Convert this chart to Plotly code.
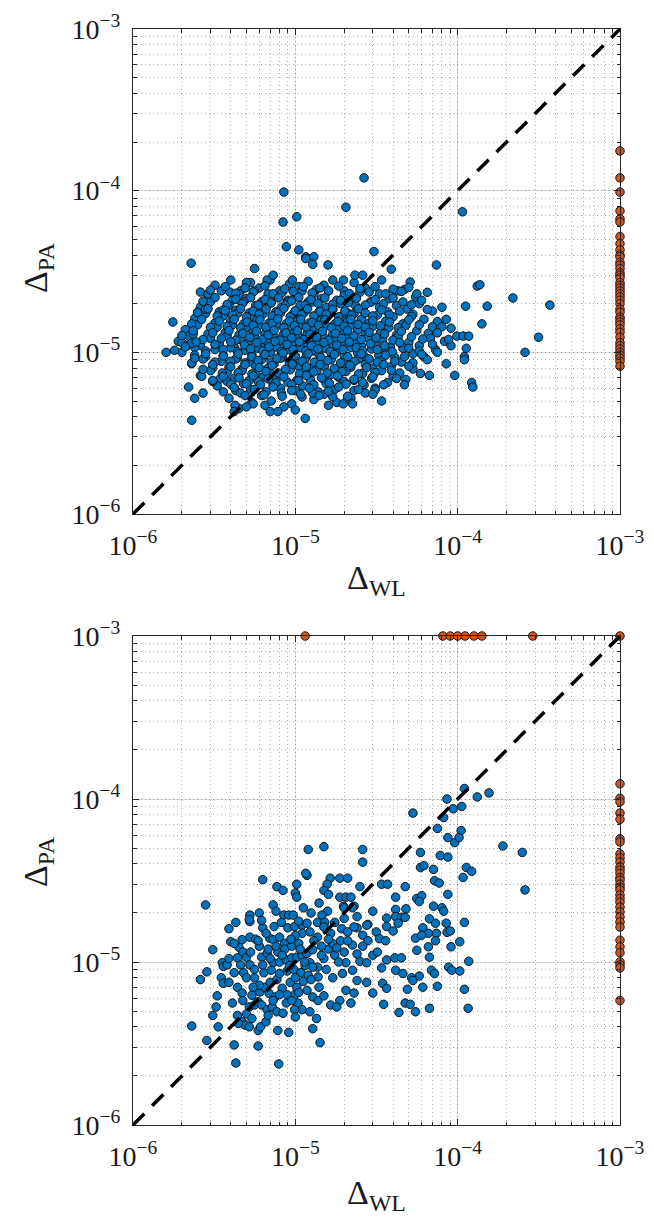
import plotly.graph_objects as go

# ---------------- top panel : blue points (Delta_WL, Delta_PA) ----------------
top_wl = [
    3.2e-6, 4.0e-6, 4.6e-6, 5.3e-6, 6.0e-6, 7.0e-6, 8.0e-6, 9.2e-6, 1.05e-5, 1.2e-5, 1.35e-5, 1.5e-5, 1.7e-5, 2.0e-5, 2.3e-5, 2.7e-5, 3.4e-5, 4.7e-5,
    2.9e-6, 3.5e-6, 4.1e-6, 4.5e-6, 5.0e-6, 5.6e-6, 6.2e-6, 6.8e-6, 7.5e-6, 8.3e-6, 9.0e-6, 1.0e-5, 1.1e-5, 1.2e-5, 1.3e-5, 1.45e-5, 1.6e-5, 1.8e-5, 2.0e-5, 2.25e-5, 2.5e-5, 2.9e-5, 3.3e-5, 3.8e-5, 4.3e-5, 5.5e-5,
    2.6e-6, 3.0e-6, 3.4e-6, 3.9e-6, 4.3e-6, 4.8e-6, 5.2e-6, 5.7e-6, 6.3e-6, 6.9e-6, 7.6e-6, 8.2e-6, 9.0e-6, 9.8e-6, 1.07e-5, 1.17e-5, 1.28e-5, 1.4e-5, 1.55e-5, 1.7e-5, 1.9e-5, 2.1e-5, 2.35e-5, 2.6e-5, 2.95e-5, 3.3e-5, 3.7e-5, 4.2e-5, 4.9e-5, 5.8e-5, 7.0e-5,
    2.4e-6, 2.8e-6, 3.2e-6, 3.6e-6, 4.0e-6, 4.4e-6, 4.8e-6, 5.3e-6, 5.8e-6, 6.3e-6, 6.9e-6, 7.5e-6, 8.1e-6, 8.8e-6, 9.5e-6, 1.03e-5, 1.12e-5, 1.22e-5, 1.33e-5, 1.45e-5, 1.6e-5, 1.75e-5, 1.92e-5, 2.1e-5, 2.3e-5, 2.55e-5, 2.85e-5, 3.2e-5, 3.6e-5, 4.0e-5, 4.6e-5, 5.3e-5, 6.2e-5, 7.5e-5,
    2.1e-6, 2.5e-6, 2.9e-6, 3.3e-6, 3.7e-6, 4.1e-6, 4.5e-6, 5.0e-6, 5.5e-6, 6.0e-6, 6.5e-6, 7.1e-6, 7.7e-6, 8.4e-6, 9.1e-6, 9.9e-6, 1.08e-5, 1.18e-5, 1.29e-5, 1.41e-5, 1.54e-5, 1.69e-5, 1.85e-5, 2.02e-5, 2.2e-5, 2.42e-5, 2.7e-5, 3.0e-5, 3.35e-5, 3.75e-5, 4.2e-5, 4.8e-5, 5.6e-5, 6.6e-5, 8.0e-5,
    1.9e-6, 2.2e-6, 2.6e-6, 3.0e-6, 3.4e-6, 3.8e-6, 4.2e-6, 4.6e-6, 5.1e-6, 5.6e-6, 6.1e-6, 6.7e-6, 7.3e-6, 8.0e-6, 8.7e-6, 9.5e-6, 1.04e-5, 1.13e-5, 1.24e-5, 1.35e-5, 1.48e-5, 1.62e-5, 1.77e-5, 1.94e-5, 2.12e-5, 2.32e-5, 2.55e-5, 2.8e-5, 3.1e-5, 3.45e-5, 3.85e-5, 4.3e-5, 5.0e-5, 5.8e-5, 6.8e-5, 8.3e-5,
    2.0e-6, 2.4e-6, 2.8e-6, 3.2e-6, 3.6e-6, 4.0e-6, 4.4e-6, 4.9e-6, 5.4e-6, 5.9e-6, 6.4e-6, 7.0e-6, 7.6e-6, 8.3e-6, 9.0e-6, 9.8e-6, 1.07e-5, 1.17e-5, 1.28e-5, 1.4e-5, 1.53e-5, 1.67e-5, 1.83e-5, 2.0e-5, 2.2e-5, 2.42e-5, 2.67e-5, 2.95e-5, 3.27e-5, 3.65e-5, 4.1e-5, 4.6e-5, 5.3e-5, 6.2e-5, 7.3e-5,
    2.3e-6, 2.7e-6, 3.1e-6, 3.5e-6, 3.9e-6, 4.3e-6, 4.7e-6, 5.2e-6, 5.7e-6, 6.2e-6, 6.8e-6, 7.4e-6, 8.1e-6, 8.8e-6, 9.6e-6, 1.05e-5, 1.15e-5, 1.26e-5, 1.38e-5, 1.51e-5, 1.66e-5, 1.82e-5, 2.0e-5, 2.2e-5, 2.45e-5, 2.7e-5, 3.0e-5, 3.4e-5, 3.9e-5, 4.5e-5, 5.3e-5, 6.5e-5,
    2.6e-6, 3.0e-6, 3.4e-6, 3.8e-6, 4.2e-6, 4.7e-6, 5.2e-6, 5.7e-6, 6.3e-6, 6.9e-6, 7.6e-6, 8.4e-6, 9.3e-6, 1.02e-5, 1.12e-5, 1.23e-5, 1.36e-5, 1.5e-5, 1.66e-5, 1.85e-5, 2.05e-5, 2.3e-5, 2.6e-5, 2.95e-5, 3.4e-5, 4.0e-5, 4.8e-5,
    3.3e-6, 3.8e-6, 4.3e-6, 4.8e-6, 5.3e-6, 5.9e-6, 6.6e-6, 7.3e-6, 8.1e-6, 9.0e-6, 1.0e-5, 1.11e-5, 1.24e-5, 1.38e-5, 1.55e-5, 1.75e-5, 2.0e-5, 2.3e-5, 2.65e-5, 3.1e-5, 3.7e-5,
    3.9e-6, 4.6e-6, 5.4e-6, 6.2e-6, 7.1e-6, 8.2e-6, 9.5e-6, 1.1e-5, 1.3e-5, 1.5e-5, 1.8e-5, 2.2e-5, 2.7e-5,
    4.5e-6, 5.5e-6, 7.0e-6, 8.5e-6, 1.0e-5, 1.6e-5,
    # outliers / edges
    1.6e-6, 1.8e-6, 1.76e-6, 2.0e-6, 2.15e-6, 2.3e-6, 2.35e-6, 2.28e-6, 2.6e-6, 2.9e-6,
    2.5e-6, 2.8e-6, 2.3e-6, 2.4e-6, 2.2e-6, 2.4e-6, 2.7e-6, 2.65e-6, 2.3e-6, 3.1e-6,
    3.95e-6, 3.6e-6, 4.25e-6, 4.2e-6, 5.0e-6, 6.5e-6, 7.8e-6, 1.15e-5, 8.5e-6, 8.4e-6,
    1.02e-5, 2.65e-5, 2.05e-5, 8.8e-6, 1.05e-5, 1.16e-5, 1.3e-5, 3.05e-5, 5.6e-6, 5.0e-6,
    6.7e-6, 7.3e-6, 9.6e-6, 1.28e-5, 1.59e-5, 7.4e-5, 3.9e-5, 2.33e-5, 2.6e-5, 1.98e-5,
    5.1e-5, 6.5e-5, 5.6e-5, 1.07e-4, 1.32e-4, 1.37e-4, 1.12e-4, 1.52e-4, 1.41e-4, 9.1e-5,
    9.1e-5, 9.9e-5, 1.08e-4, 1.17e-4, 1.13e-4, 1.1e-4, 1.1e-4, 9.6e-5, 1.22e-4, 1.24e-4,
    5.9e-5, 6.7e-5, 4.7e-5, 3.4e-5, 3.1e-5, 2.25e-5, 1.97e-5, 2.19e-4, 3.7e-4, 3.15e-4,
    2.6e-4, 8.5e-5, 8.0e-5, 8.8e-5, 7.5e-5, 8.5e-5, 1.7e-5, 2.1e-5, 1.28e-5, 1.16e-5,
]
top_pa = [
    2.6e-5, 2.8e-5, 2.4e-5, 2.7e-5, 2.5e-5, 2.8e-5, 2.4e-5, 2.65e-5, 2.55e-5, 2.75e-5, 2.45e-5, 2.6e-5, 2.8e-5, 2.4e-5, 2.7e-5, 2.5e-5, 2.8e-5, 2.45e-5,
    2.25e-5, 2.4e-5, 2.1e-5, 2.3e-5, 2.15e-5, 2.4e-5, 2.05e-5, 2.3e-5, 2.2e-5, 2.35e-5, 2.1e-5, 2.25e-5, 2.4e-5, 2.05e-5, 2.3e-5, 2.15e-5, 2.4e-5, 2.1e-5, 2.25e-5, 2.2e-5, 2.35e-5, 2.05e-5, 2.3e-5, 2.15e-5, 2.4e-5, 2.2e-5,
    1.9e-5, 2.05e-5, 1.78e-5, 1.95e-5, 1.82e-5, 2.05e-5, 1.75e-5, 1.95e-5, 1.85e-5, 2.0e-5, 1.78e-5, 1.9e-5, 2.05e-5, 1.75e-5, 1.95e-5, 1.82e-5, 2.05e-5, 1.78e-5, 1.9e-5, 1.85e-5, 2.0e-5, 1.75e-5, 1.95e-5, 1.82e-5, 2.05e-5, 1.9e-5, 1.78e-5, 1.95e-5, 1.85e-5, 2.0e-5, 1.8e-5,
    1.62e-5, 1.74e-5, 1.52e-5, 1.68e-5, 1.55e-5, 1.74e-5, 1.5e-5, 1.66e-5, 1.58e-5, 1.72e-5, 1.52e-5, 1.62e-5, 1.75e-5, 1.5e-5, 1.68e-5, 1.56e-5, 1.74e-5, 1.52e-5, 1.64e-5, 1.58e-5, 1.72e-5, 1.5e-5, 1.66e-5, 1.56e-5, 1.74e-5, 1.6e-5, 1.52e-5, 1.7e-5, 1.56e-5, 1.66e-5, 1.5e-5, 1.72e-5, 1.6e-5, 1.55e-5,
    1.38e-5, 1.48e-5, 1.3e-5, 1.43e-5, 1.32e-5, 1.48e-5, 1.28e-5, 1.42e-5, 1.35e-5, 1.47e-5, 1.3e-5, 1.38e-5, 1.49e-5, 1.28e-5, 1.43e-5, 1.33e-5, 1.48e-5, 1.3e-5, 1.4e-5, 1.35e-5, 1.47e-5, 1.28e-5, 1.42e-5, 1.33e-5, 1.48e-5, 1.37e-5, 1.3e-5, 1.45e-5, 1.33e-5, 1.42e-5, 1.28e-5, 1.47e-5, 1.36e-5, 1.31e-5, 1.44e-5,
    1.17e-5, 1.26e-5, 1.1e-5, 1.22e-5, 1.12e-5, 1.26e-5, 1.08e-5, 1.2e-5, 1.14e-5, 1.25e-5, 1.1e-5, 1.17e-5, 1.27e-5, 1.08e-5, 1.22e-5, 1.13e-5, 1.26e-5, 1.1e-5, 1.19e-5, 1.14e-5, 1.25e-5, 1.08e-5, 1.21e-5, 1.13e-5, 1.26e-5, 1.16e-5, 1.1e-5, 1.23e-5, 1.13e-5, 1.2e-5, 1.08e-5, 1.25e-5, 1.15e-5, 1.1e-5, 1.22e-5, 1.17e-5,
    1.0e-5, 1.07e-5, 9.4e-6, 1.04e-5, 9.6e-6, 1.07e-5, 9.3e-6, 1.03e-5, 9.7e-6, 1.06e-5, 9.4e-6, 1.0e-5, 1.08e-5, 9.3e-6, 1.04e-5, 9.6e-6, 1.07e-5, 9.4e-6, 1.02e-5, 9.7e-6, 1.06e-5, 9.3e-6, 1.03e-5, 9.6e-6, 1.07e-5, 9.9e-6, 9.4e-6, 1.05e-5, 9.6e-6, 1.02e-5, 9.3e-6, 1.06e-5, 9.8e-6, 9.4e-6, 1.04e-5,
    8.5e-6, 9.1e-6, 8.0e-6, 8.8e-6, 8.1e-6, 9.1e-6, 7.9e-6, 8.7e-6, 8.2e-6, 9.0e-6, 8.0e-6, 8.5e-6, 9.2e-6, 7.9e-6, 8.8e-6, 8.2e-6, 9.1e-6, 8.0e-6, 8.6e-6, 8.2e-6, 9.0e-6, 7.9e-6, 8.7e-6, 8.1e-6, 9.1e-6, 8.4e-6, 8.0e-6, 8.9e-6, 8.2e-6, 8.7e-6, 7.9e-6, 9.0e-6,
    7.2e-6, 7.7e-6, 6.8e-6, 7.5e-6, 6.9e-6, 7.7e-6, 6.7e-6, 7.4e-6, 7.0e-6, 7.6e-6, 6.8e-6, 7.2e-6, 7.8e-6, 6.7e-6, 7.5e-6, 6.9e-6, 7.7e-6, 6.8e-6, 7.3e-6, 7.0e-6, 7.6e-6, 6.7e-6, 7.4e-6, 6.9e-6, 7.7e-6, 7.1e-6, 6.8e-6,
    6.2e-6, 6.6e-6, 5.8e-6, 6.4e-6, 5.9e-6, 6.6e-6, 5.7e-6, 6.3e-6, 6.0e-6, 6.5e-6, 5.8e-6, 6.2e-6, 6.7e-6, 5.7e-6, 6.4e-6, 5.9e-6, 6.6e-6, 5.8e-6, 6.3e-6, 6.0e-6, 6.5e-6,
    5.2e-6, 5.6e-6, 4.9e-6, 5.4e-6, 5.0e-6, 5.6e-6, 4.8e-6, 5.3e-6, 5.1e-6, 5.5e-6, 4.9e-6, 5.2e-6, 5.6e-6,
    4.5e-6, 4.8e-6, 4.3e-6, 4.6e-6, 4.4e-6, 4.7e-6,
    # outliers / edges
    1.0e-5, 1.03e-5, 1.54e-5, 1.15e-5, 1.1e-5, 1.14e-5, 1.3e-5, 3.56e-5, 2.36e-5, 2.3e-5,
    1.77e-5, 1.85e-5, 8.6e-6, 9.6e-6, 6.1e-6, 5.2e-6, 5.6e-6, 7.1e-6, 3.8e-6, 6.6e-6,
    2.36e-5, 1.83e-5, 4.7e-6, 4.3e-6, 4.6e-6, 4.7e-6, 4.3e-6, 3.9e-6, 9.8e-5, 6.4e-5,
    6.9e-5, 1.2e-4, 7.9e-5, 4.5e-5, 4.3e-5, 3.9e-5, 3.9e-5, 4.2e-5, 3.3e-5, 2.7e-5,
    2.8e-5, 3.0e-5, 2.8e-5, 3.5e-5, 3.47e-5, 3.47e-5, 3.27e-5, 3.0e-5, 3.0e-5, 2.8e-5,
    2.72e-5, 2.35e-5, 2.3e-5, 7.4e-5, 2.57e-5, 2.62e-5, 1.93e-5, 1.93e-5, 1.5e-5, 1.41e-5,
    1.1e-5, 1.26e-5, 1.26e-5, 1.26e-5, 1.06e-5, 9.4e-6, 9.0e-6, 7.2e-6, 6.5e-6, 6.1e-6,
    7.4e-6, 7.2e-6, 6.3e-6, 5.0e-6, 5.85e-6, 4.8e-6, 4.8e-6, 2.17e-5, 1.96e-5, 1.24e-5,
    1.0e-5, 1.6e-5, 1.9e-5, 1.2e-5, 1.0e-5, 8.5e-6, 5.3e-6, 5.2e-6, 5.6e-6, 3.8e-5,
]
# second set of top-panel blue points (between the rows above)
top_wl_b = [
    3.0e-6, 3.7e-6, 4.3e-6, 4.9e-6, 5.5e-6, 6.5e-6, 7.3e-6, 8.6e-6, 9.7e-6, 1.12e-5, 1.27e-5, 1.42e-5, 1.6e-5, 1.85e-5, 2.15e-5, 2.5e-5, 2.85e-5, 3.1e-5, 3.6e-5, 4.0e-5, 4.5e-5, 5.0e-5,
    2.7e-6, 3.2e-6, 3.8e-6, 4.3e-6, 4.7e-6, 5.3e-6, 5.9e-6, 6.5e-6, 7.1e-6, 7.9e-6, 8.7e-6, 9.5e-6, 1.05e-5, 1.15e-5, 1.25e-5, 1.38e-5, 1.52e-5, 1.7e-5, 1.9e-5, 2.12e-5, 2.38e-5, 2.7e-5, 3.1e-5, 3.5e-5, 4.0e-5, 4.6e-5, 5.2e-5, 6.0e-5,
    2.5e-6, 2.9e-6, 3.3e-6, 3.7e-6, 4.1e-6, 4.6e-6, 5.0e-6, 5.5e-6, 6.0e-6, 6.6e-6, 7.2e-6, 7.9e-6, 8.5e-6, 9.3e-6, 1.0e-5, 1.09e-5, 1.19e-5, 1.3e-5, 1.42e-5, 1.55e-5, 1.7e-5, 1.85e-5, 2.02e-5, 2.22e-5, 2.45e-5, 2.7e-5, 3.0e-5, 3.4e-5, 3.8e-5, 4.4e-5, 5.2e-5, 6.5e-5,
    2.3e-6, 2.65e-6, 3.0e-6, 3.4e-6, 3.8e-6, 4.2e-6, 4.6e-6, 5.05e-6, 5.5e-6, 6.05e-6, 6.6e-6, 7.2e-6, 7.8e-6, 8.5e-6, 9.2e-6, 9.9e-6, 1.08e-5, 1.17e-5, 1.27e-5, 1.39e-5, 1.52e-5, 1.67e-5, 1.83e-5, 2.0e-5, 2.2e-5, 2.43e-5, 2.7e-5, 3.0e-5, 3.35e-5, 3.8e-5, 4.3e-5, 5.0e-5, 5.8e-5, 7.0e-5,
    2.0e-6, 2.35e-6, 2.7e-6, 3.1e-6, 3.5e-6, 3.9e-6, 4.3e-6, 4.75e-6, 5.25e-6, 5.75e-6, 6.25e-6, 6.8e-6, 7.4e-6, 8.05e-6, 8.75e-6, 9.5e-6, 1.03e-5, 1.12e-5, 1.23e-5, 1.35e-5, 1.47e-5, 1.61e-5, 1.77e-5, 1.93e-5, 2.1e-5, 2.3e-5, 2.55e-5, 2.85e-5, 3.15e-5, 3.55e-5, 4.0e-5, 4.5e-5, 5.2e-5, 6.1e-5, 7.5e-5,
    2.1e-6, 2.45e-6, 2.8e-6, 3.2e-6, 3.6e-6, 4.0e-6, 4.4e-6, 4.85e-6, 5.3e-6, 5.8e-6, 6.3e-6, 6.9e-6, 7.5e-6, 8.2e-6, 8.9e-6, 9.7e-6, 1.06e-5, 1.16e-5, 1.26e-5, 1.38e-5, 1.5e-5, 1.64e-5, 1.8e-5, 1.97e-5, 2.15e-5, 2.37e-5, 2.6e-5, 2.9e-5, 3.2e-5, 3.55e-5, 3.95e-5, 4.4e-5, 5.0e-5, 5.8e-5, 7.0e-5,
    2.4e-6, 2.8e-6, 3.2e-6, 3.6e-6, 4.0e-6, 4.45e-6, 4.9e-6, 5.4e-6, 5.9e-6, 6.5e-6, 7.1e-6, 7.7e-6, 8.4e-6, 9.2e-6, 1.0e-5, 1.1e-5, 1.2e-5, 1.31e-5, 1.44e-5, 1.58e-5, 1.74e-5, 1.9e-5, 2.1e-5, 2.32e-5, 2.55e-5, 2.85e-5, 3.2e-5, 3.6e-5, 4.1e-5, 4.7e-5, 5.3e-5, 6.0e-5,
    2.7e-6, 3.1e-6, 3.55e-6, 4.0e-6, 4.45e-6, 4.9e-6, 5.4e-6, 6.0e-6, 6.6e-6, 7.2e-6, 7.9e-6, 8.7e-6, 9.6e-6, 1.06e-5, 1.17e-5, 1.29e-5, 1.42e-5, 1.57e-5, 1.74e-5, 1.94e-5, 2.17e-5, 2.45e-5, 2.75e-5, 3.1e-5, 3.5e-5, 3.9e-5, 4.4e-5, 5.0e-5,
    3.1e-6, 3.6e-6, 4.0e-6, 4.5e-6, 5.0e-6, 5.5e-6, 6.1e-6, 6.8e-6, 7.6e-6, 8.5e-6, 9.5e-6, 1.05e-5, 1.17e-5, 1.3e-5, 1.45e-5, 1.62e-5, 1.82e-5, 2.05e-5, 2.3e-5, 2.6e-5, 3.0e-5, 3.5e-5, 4.2e-5,
    3.6e-6, 4.2e-6, 4.9e-6, 5.6e-6, 6.4e-6, 7.3e-6, 8.3e-6, 9.5e-6, 1.08e-5, 1.22e-5, 1.4e-5, 1.6e-5, 1.85e-5, 2.1e-5, 2.45e-5, 3.0e-5,
]
top_pa_b = [
    2.43e-5, 2.55e-5, 2.32e-5, 2.5e-5, 2.36e-5, 2.58e-5, 2.3e-5, 2.47e-5, 2.38e-5, 2.55e-5, 2.33e-5, 2.5e-5, 2.4e-5, 2.57e-5, 2.31e-5, 2.48e-5, 2.36e-5, 2.55e-5, 2.3e-5, 2.46e-5, 2.38e-5, 2.52e-5,
    2.07e-5, 2.18e-5, 1.98e-5, 2.13e-5, 2.0e-5, 2.18e-5, 1.96e-5, 2.12e-5, 2.02e-5, 2.17e-5, 1.97e-5, 2.08e-5, 2.19e-5, 1.96e-5, 2.12e-5, 2.01e-5, 2.17e-5, 1.98e-5, 2.1e-5, 2.03e-5, 2.16e-5, 1.96e-5, 2.12e-5, 2.0e-5, 2.17e-5, 2.05e-5, 1.97e-5, 2.1e-5,
    1.76e-5, 1.86e-5, 1.68e-5, 1.81e-5, 1.7e-5, 1.86e-5, 1.66e-5, 1.8e-5, 1.72e-5, 1.85e-5, 1.68e-5, 1.77e-5, 1.87e-5, 1.66e-5, 1.81e-5, 1.71e-5, 1.86e-5, 1.68e-5, 1.79e-5, 1.72e-5, 1.85e-5, 1.66e-5, 1.8e-5, 1.7e-5, 1.86e-5, 1.75e-5, 1.68e-5, 1.83e-5, 1.71e-5, 1.8e-5, 1.67e-5, 1.84e-5,
    1.5e-5, 1.6e-5, 1.43e-5, 1.56e-5, 1.45e-5, 1.6e-5, 1.42e-5, 1.54e-5, 1.47e-5, 1.59e-5, 1.43e-5, 1.51e-5, 1.61e-5, 1.42e-5, 1.56e-5, 1.46e-5, 1.6e-5, 1.43e-5, 1.53e-5, 1.47e-5, 1.59e-5, 1.42e-5, 1.55e-5, 1.45e-5, 1.6e-5, 1.49e-5, 1.43e-5, 1.57e-5, 1.46e-5, 1.54e-5, 1.42e-5, 1.59e-5, 1.48e-5, 1.44e-5,
    1.27e-5, 1.36e-5, 1.2e-5, 1.32e-5, 1.22e-5, 1.36e-5, 1.19e-5, 1.31e-5, 1.24e-5, 1.35e-5, 1.2e-5, 1.28e-5, 1.37e-5, 1.19e-5, 1.32e-5, 1.23e-5, 1.36e-5, 1.2e-5, 1.29e-5, 1.24e-5, 1.35e-5, 1.19e-5, 1.31e-5, 1.22e-5, 1.36e-5, 1.26e-5, 1.2e-5, 1.33e-5, 1.23e-5, 1.3e-5, 1.19e-5, 1.35e-5, 1.25e-5, 1.21e-5, 1.32e-5,
    1.08e-5, 1.16e-5, 1.02e-5, 1.12e-5, 1.04e-5, 1.16e-5, 1.01e-5, 1.11e-5, 1.05e-5, 1.15e-5, 1.02e-5, 1.08e-5, 1.17e-5, 1.01e-5, 1.12e-5, 1.04e-5, 1.16e-5, 1.02e-5, 1.1e-5, 1.05e-5, 1.15e-5, 1.01e-5, 1.11e-5, 1.04e-5, 1.16e-5, 1.07e-5, 1.02e-5, 1.13e-5, 1.04e-5, 1.1e-5, 1.01e-5, 1.15e-5, 1.06e-5, 1.02e-5, 1.12e-5,
    9.2e-6, 9.8e-6, 8.7e-6, 9.5e-6, 8.8e-6, 9.8e-6, 8.6e-6, 9.4e-6, 8.9e-6, 9.7e-6, 8.7e-6, 9.2e-6, 9.9e-6, 8.6e-6, 9.5e-6, 8.8e-6, 9.8e-6, 8.7e-6, 9.3e-6, 8.9e-6, 9.7e-6, 8.6e-6, 9.4e-6, 8.8e-6, 9.8e-6, 9.1e-6, 8.7e-6, 9.6e-6, 8.8e-6, 9.4e-6, 8.6e-6, 9.7e-6,
    7.85e-6, 8.4e-6, 7.45e-6, 8.15e-6, 7.5e-6, 8.4e-6, 7.35e-6, 8.05e-6, 7.6e-6, 8.3e-6, 7.45e-6, 7.85e-6, 8.45e-6, 7.35e-6, 8.15e-6, 7.55e-6, 8.4e-6, 7.45e-6, 7.95e-6, 7.6e-6, 8.3e-6, 7.35e-6, 8.05e-6, 7.5e-6, 8.4e-6, 7.75e-6, 7.45e-6, 8.2e-6,
    6.7e-6, 7.1e-6, 6.35e-6, 6.95e-6, 6.4e-6, 7.15e-6, 6.3e-6, 6.85e-6, 6.5e-6, 7.05e-6, 6.35e-6, 6.7e-6, 7.2e-6, 6.3e-6, 6.95e-6, 6.45e-6, 7.15e-6, 6.35e-6, 6.8e-6, 6.5e-6, 7.05e-6, 6.3e-6, 6.9e-6,
    5.7e-6, 6.05e-6, 5.4e-6, 5.9e-6, 5.45e-6, 6.1e-6, 5.35e-6, 5.8e-6, 5.5e-6, 6.0e-6, 5.4e-6, 5.75e-6, 6.1e-6, 5.35e-6, 5.9e-6, 5.5e-6,
]

# top panel : orange points (capped at Delta_WL = 1e-3)
top_cap_wl = [
    1e-3, 1e-3, 1e-3, 1e-3, 1e-3, 1e-3, 1e-3, 1e-3, 1e-3, 1e-3,
    1e-3, 1e-3, 1e-3, 1e-3, 1e-3, 1e-3, 1e-3, 1e-3, 1e-3, 1e-3,
    1e-3, 1e-3, 1e-3, 1e-3, 1e-3, 1e-3, 1e-3, 1e-3, 1e-3, 1e-3,
    1e-3, 1e-3, 1e-3, 1e-3, 1e-3, 1e-3, 1e-3, 1e-3, 1e-3, 1e-3,
    1e-3, 1e-3,
]
top_cap_pa = [
    1.76e-4, 1.2e-4, 9.8e-5, 7.5e-5, 6.7e-5, 6.4e-5, 5.2e-5, 4.7e-5, 4.3e-5, 4.0e-5,
    3.9e-5, 3.6e-5, 3.47e-5, 3.3e-5, 3.1e-5, 3.0e-5, 2.9e-5, 2.7e-5, 2.6e-5, 2.5e-5,
    2.4e-5, 2.3e-5, 2.2e-5, 2.1e-5, 2.0e-5, 1.85e-5, 1.77e-5, 1.65e-5, 1.6e-5, 1.54e-5,
    1.48e-5, 1.4e-5, 1.33e-5, 1.24e-5, 1.15e-5, 1.1e-5, 1.05e-5, 1.0e-5, 9.6e-6, 9.2e-6,
    8.8e-6, 8.2e-6,
]

# ---------------- bottom panel : blue points ----------------
bot_wl = [
    1.2e-5, 1.5e-5, 2.6e-5, 2.6e-5, 6.3e-6, 1.18e-5, 2.8e-6, 7.7e-6, 8.4e-6, 1.02e-5,
    1.0e-5, 1.02e-5, 1.64e-5, 1.88e-5, 2.1e-5, 1.57e-5, 1.5e-5, 1.88e-5, 2.05e-5, 1.98e-5,
    2.3e-5, 3.4e-5, 3.7e-5, 3.0e-5, 2.8e-5, 3.15e-5, 3.65e-5, 2.4e-5, 5.25e-6, 5.25e-6,
    3.1e-6, 2.85e-6, 2.6e-6, 3.3e-6, 3.25e-6, 3.1e-6, 2.3e-6, 3.35e-6, 2.85e-6, 4.2e-6,
    5.9e-6, 4.3e-6, 7.9e-6, 1.42e-5, 1.28e-5, 1.35e-5, 9.1e-6, 7.8e-6, 5.9e-6, 6.1e-6,
    4.0e-6, 3.55e-6, 3.6e-6, 3.8e-6, 1.16e-5, 7.3e-6, 7.6e-6, 8.5e-6, 9.1e-6, 9.7e-6,
    5.2e-6, 6.3e-6, 6.95e-6, 7.3e-6, 8.0e-6, 8.6e-6, 9.0e-6, 9.9e-6, 1.1e-5, 1.18e-5,
    1.1e-5, 1.23e-5, 1.37e-5, 1.37e-5, 4.7e-6, 5.25e-6, 5.7e-6, 4.5e-6, 4.75e-6, 5.0e-6,
    4.4e-6, 5.25e-6, 6.2e-6, 6.7e-6, 7.3e-6, 8.0e-6, 8.8e-6, 9.5e-6, 1.02e-5, 1.1e-5,
    1.18e-5, 1.28e-5, 1.23e-5, 1.37e-5, 3.5e-6, 3.6e-6, 3.9e-6, 4.4e-6, 4.7e-6, 4.1e-6,
    4.75e-6, 5.2e-6, 5.6e-6, 5.4e-6, 6.05e-6, 6.5e-6, 7.0e-6, 7.7e-6, 8.3e-6, 5.9e-6,
    6.2e-6, 6.7e-6, 7.2e-6, 7.7e-6, 8.4e-6, 8.8e-6, 9.9e-6, 1.04e-5, 9.3e-6, 1.02e-5,
    1.12e-5, 4.7e-6, 4.9e-6, 5.2e-6, 6.6e-6, 4.4e-6, 4.45e-6, 1.28e-5, 1.38e-5, 1.18e-5,
    1.28e-5, 1.38e-5, 1.1e-5, 1.23e-5, 9.9e-6, 1.1e-4, 1.32e-4, 1.56e-4, 8.6e-5, 1.06e-4,
    9.4e-5, 8.2e-5, 5.3e-5, 7.5e-5, 1.05e-4, 8.7e-5, 9.6e-5, 1.02e-4, 1.9e-4, 2.5e-4,
    2.6e-4, 5.9e-5, 7.8e-5, 8.7e-5, 5.9e-5, 6.2e-5, 7.1e-5, 7.2e-5, 7.7e-5, 1.13e-4,
    1.22e-4, 1.08e-4, 4.75e-5, 4.15e-5, 5.6e-5, 6.0e-5, 5.8e-5, 8.7e-5, 4.15e-5, 4.8e-5,
    4.15e-5, 4.5e-5, 4.75e-5, 3.65e-5, 4.3e-5, 4.0e-5, 7.1e-5, 8.0e-5, 8.2e-5, 6.7e-5,
    6.1e-5, 6.6e-5, 7.3e-5, 7.4e-5, 8.5e-5, 8.6e-5, 9.0e-5, 1.1e-4, 5.5e-5, 6.0e-5,
    5.6e-5, 6.6e-5, 6.7e-5, 7.3e-5, 9.1e-5, 1.03e-4, 1.17e-4, 8.8e-5, 9.2e-5, 1.03e-4,
    1.1e-4, 1.16e-4, 6.7e-5, 7.5e-5, 6.1e-5, 6.9e-5, 7.2e-5, 5.8e-5, 5.2e-5, 5.3e-5,
    4.9e-5, 4.75e-5, 5.1e-5, 4.35e-5, 5.5e-5, 3.65e-5, 4.1e-5, 4.5e-5, 4.15e-5, 4.6e-5,
    3.4e-5, 3.45e-5, 3.65e-5, 3.5e-5, 3.3e-5, 3.6e-5, 2.25e-5, 2.0e-5, 1.58e-5, 1.46e-5,
    1.52e-5, 1.5e-5, 1.65e-5, 1.93e-5, 2.1e-5, 2.3e-5, 2.75e-5, 2.6e-5, 2.8e-5, 2.25e-5,
    3.0e-5, 3.2e-5, 2.5e-5, 2.75e-5, 2.05e-5, 2.25e-5, 1.95e-5, 2.4e-5, 2.75e-5, 2.05e-5,
    2.3e-5, 3.0e-5, 1.88e-5, 1.65e-5, 1.8e-5, 2.2e-5, 1.5e-5, 1.6e-5, 1.75e-5, 1.5e-5,
    1.7e-5, 1.9e-5, 1.55e-5, 1.7e-5, 1.45e-5, 2.0e-5, 1.85e-5, 1.4e-5, 6.0e-6, 1.6e-5,
    6.0e-6, 6.8e-6, 7.8e-6, 8.6e-6, 9.5e-6, 1.05e-5, 6.4e-6, 7.1e-6, 8.0e-6, 8.9e-6,
    9.8e-6, 1.08e-5, 1.15e-5, 5.6e-6, 6.0e-6, 1.0e-5, 9.4e-6, 1.05e-5, 1.25e-5, 1.12e-5,
    3.9e-6, 4.3e-6, 4.8e-6, 5.6e-6, 1.3e-5, 1.45e-5, 6.9e-6, 7.5e-6, 8.9e-6, 1.2e-5,
    5.0e-6, 5.5e-6, 6.3e-6, 7.0e-6, 7.6e-6, 8.3e-6, 9.2e-6, 1.0e-5, 1.07e-5, 1.14e-5,
    4.2e-6, 4.6e-6, 5.3e-6, 5.9e-6, 6.6e-6, 7.4e-6, 8.2e-6, 6.2e-6, 3.9e-6, 4.2e-6,
    1.6e-5, 1.8e-5, 2.1e-5, 2.4e-5, 2.6e-5, 1.75e-5, 2.0e-5, 2.4e-5, 2.2e-5, 2.5e-5,
    1.4e-5, 1.25e-5, 1.05e-5, 9.5e-6, 8.0e-6, 7.3e-6, 5.0e-6, 5.4e-6, 6.8e-6, 1.0e-5,
]
bot_pa = [
    4.9e-5, 5.1e-5, 4.9e-5, 4.1e-5, 3.2e-5, 3.4e-5, 2.24e-5, 2.9e-5, 2.75e-5, 3.0e-5,
    2.65e-5, 2.5e-5, 3.27e-5, 3.27e-5, 3.27e-5, 3.0e-5, 2.75e-5, 2.5e-5, 2.5e-5, 2.2e-5,
    2.2e-5, 3.0e-5, 3.0e-5, 2.05e-5, 1.7e-5, 1.53e-5, 1.86e-5, 1.62e-5, 1.94e-5, 1.77e-5,
    1.19e-5, 8.7e-6, 7.8e-6, 6.2e-6, 5.3e-6, 4.7e-6, 4.05e-6, 4.0e-6, 3.3e-6, 3.1e-6,
    3.05e-6, 2.4e-6, 2.37e-6, 3.2e-6, 3.9e-6, 4.5e-6, 3.7e-6, 3.8e-6, 3.8e-6, 4.0e-6,
    1.33e-5, 9.9e-6, 9.4e-6, 9.6e-6, 3.5e-5, 2.24e-5, 2.05e-5, 1.94e-5, 1.94e-5, 1.94e-5,
    1.82e-5, 1.62e-5, 1.4e-5, 1.37e-5, 1.42e-5, 1.3e-5, 1.62e-5, 1.65e-5, 1.68e-5, 1.73e-5,
    1.5e-5, 1.53e-5, 1.75e-5, 1.42e-5, 1.37e-5, 1.42e-5, 1.38e-5, 1.23e-5, 1.15e-5, 1.07e-5,
    1.06e-5, 9.6e-6, 1.07e-5, 1.13e-5, 9.9e-6, 1.0e-5, 1.03e-5, 1.06e-5, 1.07e-5, 1.1e-5,
    1.13e-5, 1.19e-5, 9.9e-6, 9.3e-6, 8.0e-6, 7.4e-6, 7.5e-6, 7.0e-6, 6.45e-6, 5.6e-6,
    5.8e-6, 5.3e-6, 5.45e-6, 6.25e-6, 6.55e-6, 7.0e-6, 7.5e-6, 7.8e-6, 6.9e-6, 5.7e-6,
    5.45e-6, 5.1e-6, 5.3e-6, 4.95e-6, 4.85e-6, 5.6e-6, 6.3e-6, 5.6e-6, 7.5e-6, 7.0e-6,
    7.6e-6, 4.3e-6, 4.1e-6, 4.0e-6, 4.3e-6, 4.7e-6, 4.2e-6, 9.3e-6, 8.1e-6, 6.7e-6,
    6.1e-6, 5.8e-6, 5.1e-6, 4.95e-6, 5.1e-6, 1.16e-4, 1.03e-4, 1.09e-4, 1.0e-4, 9.0e-5,
    8.7e-5, 7.7e-5, 8.2e-5, 6.6e-5, 6.4e-5, 5.8e-5, 5.4e-5, 5.8e-5, 5.15e-5, 4.7e-5,
    2.77e-5, 4.7e-5, 4.5e-5, 4.4e-5, 3.8e-5, 3.9e-5, 3.7e-5, 3.15e-5, 3.05e-5, 3.8e-5,
    3.6e-5, 3.3e-5, 2.9e-5, 2.5e-5, 2.45e-5, 2.55e-5, 2.35e-5, 2.6e-5, 2.1e-5, 2.12e-5,
    1.9e-5, 1.88e-5, 1.88e-5, 1.65e-5, 1.73e-5, 1.55e-5, 2.2e-5, 2.15e-5, 2.05e-5, 1.84e-5,
    1.62e-5, 1.5e-5, 1.73e-5, 1.5e-5, 1.73e-5, 1.52e-5, 1.55e-5, 1.75e-5, 1.4e-5, 1.46e-5,
    1.18e-5, 1.24e-5, 1.07e-5, 1.35e-5, 1.24e-5, 1.33e-5, 1.01e-5, 9.3e-6, 8.9e-6, 8.8e-6,
    6.8e-6, 5.2e-6, 5.2e-6, 7.1e-6, 7.0e-6, 8.9e-6, 8.5e-6, 8.2e-6, 8.0e-6, 7.7e-6,
    6.8e-6, 5.6e-6, 5.5e-6, 4.9e-6, 4.95e-6, 1.03e-5, 1.06e-5, 1.06e-5, 8.9e-6, 8.5e-6,
    9.2e-6, 7.4e-6, 6.9e-6, 5.5e-6, 1.39e-5, 1.35e-5, 2.15e-5, 2.15e-5, 2.05e-5, 1.94e-5,
    1.75e-5, 1.64e-5, 1.5e-5, 1.6e-5, 1.53e-5, 1.64e-5, 1.68e-5, 1.46e-5, 1.35e-5, 1.27e-5,
    1.1e-5, 1.15e-5, 1.01e-5, 9.9e-6, 9.9e-6, 8.9e-6, 8.5e-6, 7.7e-6, 7.5e-6, 6.7e-6,
    6.45e-6, 6.45e-6, 5.8e-6, 5.45e-6, 5.3e-6, 5.6e-6, 6.2e-6, 1.2e-5, 1.1e-5, 1.05e-5,
    1.3e-5, 1.35e-5, 9.0e-6, 8.0e-6, 1.25e-5, 1.15e-5, 1.0e-5, 2.3e-5, 2.0e-5, 2.6e-5,
    1.25e-5, 1.2e-5, 1.15e-5, 1.2e-5, 1.25e-5, 1.3e-5, 8.6e-6, 8.9e-6, 8.5e-6, 8.8e-6,
    9.0e-6, 8.6e-6, 9.5e-6, 8.0e-6, 7.2e-6, 1.45e-5, 1.38e-5, 1.78e-5, 2.0e-5, 2.15e-5,
    1.6e-5, 1.75e-5, 8.6e-6, 9.0e-6, 1.35e-5, 1.1e-5, 6.4e-6, 6.1e-6, 6.3e-6, 8.3e-6,
    8.0e-6, 7.0e-6, 9.6e-6, 1.05e-5, 1.25e-5, 1.1e-5, 9.5e-6, 8.0e-6, 1.2e-5, 1.0e-5,
    8.6e-6, 9.6e-6, 1.15e-5, 1.35e-5, 1.5e-5, 1.65e-5, 1.75e-5, 1.8e-5, 1.05e-5, 1.3e-5,
    1.38e-5, 1.22e-5, 1.35e-5, 1.12e-5, 1.25e-5, 1.75e-5, 1.85e-5, 1.9e-5, 2.5e-5, 2.9e-5,
    7.0e-6, 7.8e-6, 6.5e-6, 5.8e-6, 6.3e-6, 5.8e-6, 4.8e-6, 4.5e-6, 4.7e-6, 4.6e-6,
]

# bottom panel : orange points capped at Delta_WL = 1e-3 (right edge)
bot_cap_right_wl = [
    1e-3, 1e-3, 1e-3, 1e-3, 1e-3, 1e-3, 1e-3, 1e-3, 1e-3, 1e-3,
    1e-3, 1e-3, 1e-3, 1e-3, 1e-3, 1e-3, 1e-3, 1e-3, 1e-3, 1e-3,
    1e-3, 1e-3, 1e-3, 1e-3, 1e-3, 1e-3, 1e-3, 1e-3, 1e-3, 1e-3,
    1e-3, 1e-3, 1e-3, 1e-3,
]
bot_cap_right_pa = [
    1.24e-4, 1.01e-4, 9.6e-5, 8.2e-5, 7.5e-5, 5.7e-5, 5.45e-5, 4.6e-5, 4.35e-5, 4.1e-5,
    3.83e-5, 3.67e-5, 3.5e-5, 3.3e-5, 3.18e-5, 3.0e-5, 2.88e-5, 2.77e-5, 2.58e-5, 2.45e-5,
    2.33e-5, 2.17e-5, 2.03e-5, 1.89e-5, 1.76e-5, 1.64e-5, 1.36e-5, 1.24e-5, 1.14e-5, 1.0e-5,
    9.6e-6, 9.2e-6, 5.8e-6, 1e-3,
]
# bottom panel : orange points capped at Delta_PA = 1e-3 (top edge)
bot_cap_top_wl = [1.15e-5, 8.1e-5, 9.0e-5, 1.0e-4, 1.11e-4, 1.26e-4, 1.41e-4, 2.9e-4]
bot_cap_top_pa = [1e-3, 1e-3, 1e-3, 1e-3, 1e-3, 1e-3, 1e-3, 1e-3]

# reference line y = x
diag = [1e-6, 1e-3]

# decade ticks
tick_vals = [1e-6, 1e-5, 1e-4, 1e-3]
tick_text = ["10<sup>−6</sup>", "10<sup>−5</sup>", "10<sup>−4</sup>", "10<sup>−3</sup>"]

BLUE = "#0072BD"
ORANGE = "#D95319"
EDGE = "#141414"
AXC = "#262626"
FONT = "Liberation Serif"

fig = go.Figure()


def add_panel(xa, ya, bx, by, ox, oy):
    fig.add_trace(go.Scatter(
        x=bx, y=by, mode="markers", xaxis=xa, yaxis=ya, showlegend=False,
        marker=dict(size=8.5, color=BLUE, line=dict(color=EDGE, width=1)),
        hoverinfo="skip"))
    fig.add_trace(go.Scatter(
        x=ox, y=oy, mode="markers", xaxis=xa, yaxis=ya, showlegend=False,
        cliponaxis=False,
        marker=dict(size=8.5, color=ORANGE, line=dict(color=EDGE, width=1)),
        hoverinfo="skip"))
    fig.add_trace(go.Scatter(
        x=diag, y=diag, mode="lines", xaxis=xa, yaxis=ya, showlegend=False,
        line=dict(color="black", width=3.5, dash="16px,11px"),
        hoverinfo="skip"))


add_panel("x", "y", top_wl + top_wl_b, top_pa + top_pa_b, top_cap_wl, top_cap_pa)
add_panel("x2", "y2", bot_wl, bot_pa,
          bot_cap_right_wl + bot_cap_top_wl, bot_cap_right_pa + bot_cap_top_pa)

W, H = 654, 1218


def ax(domain, anchor):
    return dict(
        type="log", range=[-6.00005, -2.99995],
        tickmode="array", tickvals=tick_vals, ticktext=tick_text,
        domain=domain, anchor=anchor, automargin=False,
        ticks="inside", ticklen=6, tickwidth=1, tickcolor=AXC,
        showline=True, linecolor=AXC, linewidth=1, mirror="ticks",
        showgrid=True, gridcolor="rgba(0,0,0,0.12)", gridwidth=1,
        minor=dict(ticks="inside", ticklen=3.5, tickwidth=1, tickcolor=AXC, dtick="D1",
                   showgrid=True, gridcolor="rgba(0,0,0,0.30)", griddash="1px,3px", gridwidth=1),
        tickfont=dict(family=FONT, size=28, color="#1a1a1a"),
        ticklabelstandoff=6,
        zeroline=False, fixedrange=True,
    )


xdom = [133 / W, 620 / W]
ytop = [1 - 514 / H, 1 - 29 / H]
ybot = [1 - 1125 / H, 1 - 636 / H]

fig.update_layout(
    width=W, height=H,
    margin=dict(l=0, r=0, t=0, b=0, autoexpand=False),
    paper_bgcolor="white", plot_bgcolor="white",
    xaxis=ax(xdom, "y"), yaxis=ax(ytop, "x"),
    xaxis2=ax(xdom, "y2"), yaxis2=ax(ybot, "x2"),
    showlegend=False,
)

title_font = dict(family=FONT, size=34, color="#1a1a1a")
xc = (133 + 620) / 2 / W
fig.add_annotation(x=xc, y=1 - 580 / H, xref="paper", yref="paper", text="Δ<sub>WL</sub>",
                   showarrow=False, font=title_font, xanchor="center", yanchor="middle")
fig.add_annotation(x=xc, y=1 - 1195 / H, xref="paper", yref="paper", text="Δ<sub>WL</sub>",
                   showarrow=False, font=title_font, xanchor="center", yanchor="middle")
fig.add_annotation(x=38 / W, y=1 - 268 / H, xref="paper", yref="paper", text="Δ<sub>PA</sub>",
                   showarrow=False, font=title_font, textangle=-90, xanchor="center", yanchor="middle")
fig.add_annotation(x=38 / W, y=1 - 862 / H, xref="paper", yref="paper", text="Δ<sub>PA</sub>",
                   showarrow=False, font=title_font, textangle=-90, xanchor="center", yanchor="middle")

fig.write_html("out.html")
